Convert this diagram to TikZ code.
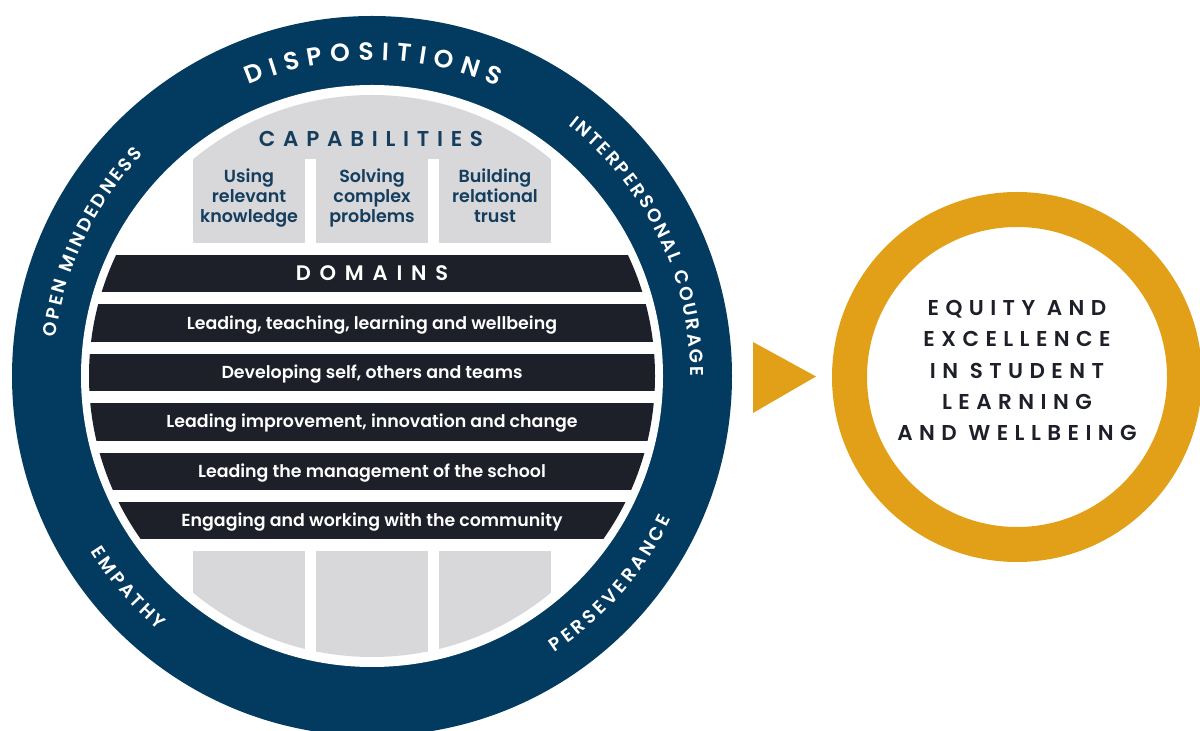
\documentclass[tikz,border=0pt]{standalone}
\usepackage{fontspec}
\setmainfont{Poppins}
\newfontfamily\pmed{Poppins Medium}
\newfontfamily\psemi{Poppins SemiBold}
\newfontfamily\pwide{Poppins SemiBold}[LetterSpace=36]
\newfontfamily\pdom{Poppins SemiBold}[LetterSpace=42]
\newfontfamily\pgoal{Poppins SemiBold}[LetterSpace=30]
\usetikzlibrary{decorations.text,calc}

\definecolor{ringblue}{HTML}{033A5F}
\definecolor{bandink}{HTML}{1E2029}
\definecolor{capgray}{HTML}{D8D7D9}
\definecolor{capnavy}{HTML}{143D5E}
\definecolor{goalgold}{HTML}{E29F18}
\definecolor{goalink}{HTML}{1E2029}

\newcommand\ringbig{\psemi\fontsize{25}{25}\selectfont}
\newcommand\ringsmall{\psemi\fontsize{18.5}{18.5}\selectfont}

\tikzset{
  ringlabel/.style={decorate, decoration={text along path, text align=fit to path,
      text color=white, text={#1}}},
  domlabel/.style={text=white, anchor=base, inner sep=0pt,
      font=\psemi\fontsize{17.4}{18}\selectfont},
  caplabel/.style={text=capnavy, align=center, inner sep=0pt,
      font=\psemi\fontsize{17.5}{20}\selectfont},
  bandbar/.style={fill=bandink},
  capblock/.style={fill=capgray},
}

\begin{document}
\begin{tikzpicture}[x=1pt,y=1pt]
\useasboundingbox (0,0) rectangle (1200,731);
\coordinate (C) at (372,355);

% outer ring of dispositions
\fill[ringblue] (C) circle[radius=360];
\fill[white] (C) circle[radius=291];

% capability blocks, top and bottom
\begin{scope}
  \clip (C) circle[radius=281];
  \fill[capblock] (193,572) rectangle (551,731);
  \fill[capblock] (193,488) rectangle (305,572.5);
  \fill[capblock] (316,488) rectangle (428,572.5);
  \fill[capblock] (439,488) rectangle (551,572.5);
  \fill[capblock] (193,0) rectangle (305,180);
  \fill[capblock] (316,0) rectangle (428,180);
  \fill[capblock] (439,0) rectangle (551,180);
\end{scope}

% domain bars
\begin{scope}
  \clip (C) circle[radius=283];
  \foreach \i in {0,...,5}
    \fill[bandbar] (0,{731-255-49.4*\i}) rectangle (800,{731-292.5-49.4*\i});
\end{scope}

% headings
\node[text=capnavy, anchor=base, inner sep=0pt, font=\pwide\fontsize{21.5}{22}\selectfont]
  (capabilities) at (371,584.3) {CAPABILITIES};
\node[text=white, anchor=base, inner sep=0pt, font=\pdom\fontsize{21}{22}\selectfont]
  (domains) at (372,450.25) {DOMAINS};

% capability labels
\node[caplabel] (cap1) at (249,533) {Using\\relevant\\knowledge};
\node[caplabel] (cap2) at (372,533) {Solving\\complex\\problems};
\node[caplabel] (cap3) at (495,533) {Building\\relational\\trust\vphantom{g}};

% domain labels
\foreach \t [count=\i] in {{Leading, teaching, learning and wellbeing},
    {Developing self, others and teams},
    {Leading improvement, innovation and change},
    {Leading the management of the school},
    {Engaging and working with the community}}
  \node[domlabel] (dom\i) at (372,{731-279.75-49.4*\i}) {\t};

% dispositions around the ring
\path[ringlabel={|\ringbig|DISPOSITIONS}]
  ($(C)+(113:316)$) arc[start angle=113, end angle=66.5, radius=316];
\path[ringlabel={|\ringsmall|INTERPERSONAL COURAGE}]
  ($(C)+(52:318.5)$) arc[start angle=52, end angle=0, radius=318.5];
\path[ringlabel={|\ringsmall|OPEN MINDEDNESS}]
  ($(C)+(173:318.5)$) arc[start angle=173, end angle=136, radius=318.5];
\path[ringlabel={|\ringsmall|EMPATHY}]
  ($(C)+(212:331.5)$) arc[start angle=212, end angle=230, radius=331.5];
\path[ringlabel={|\ringsmall|PERSEVERANCE}]
  ($(C)+(-56.5:331.5)$) arc[start angle=-56.5, end angle=-25.5, radius=331.5];

% pointer and goal
\fill[goalgold] (753,389) -- (753,318) -- (816,354.5) -- cycle;
\draw[goalgold, line width=35] (1017,354) circle[radius=167.5];
\node[text=goalink, align=center, inner sep=0pt,
      font=\pgoal\fontsize{21.5}{31.25}\selectfont] (goal) at (1017,360.5)
  {EQUITY AND\\EXCELLENCE\\IN STUDENT\\LEARNING\\AND WELLBEING};
\end{tikzpicture}
\end{document}
